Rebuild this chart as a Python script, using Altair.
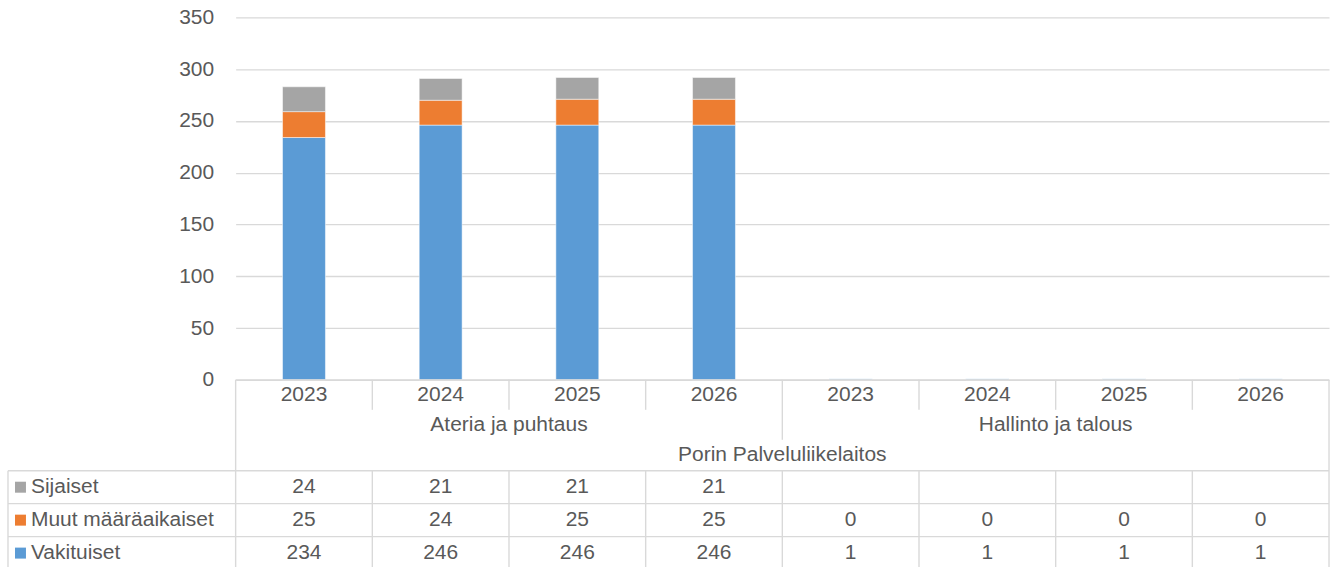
import altair as alt
import pandas as pd

# Categories: service unit and year, under one parent organisation
parent = "Porin Palveluliikelaitos"
units = ["Ateria ja puhtaus"] * 4 + ["Hallinto ja talous"] * 4
years = ["2023", "2024", "2025", "2026"] * 2

# Staff counts per category
sijaiset = [24, 21, 21, 21, None, None, None, None]
muut_maaraaikaiset = [25, 24, 25, 25, 0, 0, 0, 0]
vakituiset = [234, 246, 246, 246, 1, 1, 1, 1]

# Series in stacking order (bottom to top)
series_names = ["Vakituiset", "Muut määräaikaiset", "Sijaiset"]
series_values = [vakituiset, muut_maaraaikaiset, sijaiset]
series_colors = ["#5B9BD5", "#ED7D31", "#A5A5A5"]

y_ticks = [0, 50, 100, 150, 200, 250, 300, 350]

# ---- layout constants (pixels) ----
FONT = "Liberation Sans"
TEXT = "#595959"
LINE = "#D9D9D9"
FS = 21
PLOT_W = 1095
PLOT_H = 363
N_COLS = len(years)
COL_PX = PLOT_W / N_COLS
TABLE_LEFT = -228 / COL_PX          # left edge of the row-label column, in column units
ROW_EDGES = [0, 30, 60, 91, 124, 157, 190]
TABLE_H = ROW_EDGES[-1]


def row_mid(i):
    return (ROW_EDGES[i] + ROW_EDGES[i + 1]) / 2


# ---- stacked bars ----
bar_rows = []
for k, (name, vals) in enumerate(zip(series_names, series_values)):
    for i, v in enumerate(vals):
        if v is None:
            continue
        bar_rows.append({"col": i, "series": name, "order": k, "value": v})
bars_df = pd.DataFrame(bar_rows)

color_scale = alt.Scale(domain=series_names, range=series_colors)

bars = alt.Chart(bars_df).mark_bar(stroke="white", strokeWidth=0.5).encode(
    x=alt.X("col:O", axis=None,
            scale=alt.Scale(paddingInner=0.686, paddingOuter=0.343)),
    y=alt.Y("value:Q", stack="zero", title=None,
            scale=alt.Scale(domain=[0, 350], nice=False),
            axis=alt.Axis(values=y_ticks, grid=True, gridColor=LINE, gridWidth=1.3,
                          domain=False, ticks=False, labelFontSize=FS,
                          labelColor=TEXT, labelFont=FONT, labelPadding=22)),
    color=alt.Color("series:N", scale=color_scale, legend=None),
    order=alt.Order("order:Q"),
).properties(width=PLOT_W, height=PLOT_H)

# ---- category labels and data table below the plot ----
xs = alt.Scale(domain=[0, N_COLS], nice=False, zero=False)
ys = alt.Scale(domain=[0, TABLE_H], nice=False, zero=False, reverse=True)


def X(f):
    return alt.X(f, scale=xs, axis=None)


def Y(f):
    return alt.Y(f, scale=ys, axis=None)


year_df = pd.DataFrame({"x": [i + 0.5 for i in range(N_COLS)],
                        "y": row_mid(0), "label": years})

unit_names = list(dict.fromkeys(units))
unit_df = pd.DataFrame({
    "x": [sum(i + 0.5 for i, u in enumerate(units) if u == n) / units.count(n)
          for n in unit_names],
    "y": row_mid(1), "label": unit_names})

parent_df = pd.DataFrame({"x": [N_COLS / 2], "y": [row_mid(2)], "label": [parent]})

table_order = list(reversed(series_names))   # Sijaiset on top
cell_rows, label_rows = [], []
for r, name in enumerate(table_order):
    vals = series_values[series_names.index(name)]
    yc = row_mid(3 + r)
    label_rows.append({"y": yc, "series": name,
                       "xt": TABLE_LEFT + 23 / COL_PX,
                       "xs": TABLE_LEFT + 12.5 / COL_PX})
    for i, v in enumerate(vals):
        if v is None:
            continue
        cell_rows.append({"x": i + 0.5, "y": yc, "label": str(v)})
cells_df = pd.DataFrame(cell_rows)
labels_df = pd.DataFrame(label_rows)

# Table grid lines (x, x2 in column units; y, y2 in pixel rows)
rules = []
rules.append({"x": 0, "x2": N_COLS, "y": 0, "y2": 0})               # category axis line
for c in range(1, N_COLS):
    bottom = ROW_EDGES[2] if c == N_COLS // 2 else ROW_EDGES[1]
    rules.append({"x": c, "x2": c, "y": 0, "y2": bottom})
    rules.append({"x": c, "x2": c, "y": ROW_EDGES[3], "y2": TABLE_H})
for c in (0, N_COLS):
    rules.append({"x": c, "x2": c, "y": 0, "y2": TABLE_H})
rules.append({"x": TABLE_LEFT, "x2": TABLE_LEFT, "y": ROW_EDGES[3], "y2": TABLE_H})
for e in ROW_EDGES[3:]:
    rules.append({"x": TABLE_LEFT, "x2": N_COLS, "y": e, "y2": e})
rules_df = pd.DataFrame(rules)

grid = alt.Chart(rules_df).mark_rule(color=LINE, strokeWidth=1.4).encode(
    x=X("x:Q"), x2="x2:Q", y=Y("y:Q"), y2="y2:Q")


def text_layer(df, align="center"):
    return alt.Chart(df).mark_text(font=FONT, fontSize=FS, color=TEXT,
                                   align=align, baseline="middle").encode(
        x=X("x:Q"), y=Y("y:Q"), text="label:N")


row_text = alt.Chart(labels_df).mark_text(font=FONT, fontSize=FS, color=TEXT,
                                          align="left", baseline="middle").encode(
    x=X("xt:Q"), y=Y("y:Q"), text="series:N")

row_keys = alt.Chart(labels_df).mark_square(size=121, opacity=1).encode(
    x=X("xs:Q"), y=Y("y:Q"),
    color=alt.Color("series:N", scale=color_scale, legend=None))

table = alt.layer(
    grid,
    text_layer(year_df),
    text_layer(unit_df),
    text_layer(parent_df),
    text_layer(cells_df),
    row_text,
    row_keys,
).properties(width=PLOT_W, height=TABLE_H)

chart = alt.vconcat(bars, table, spacing=0, bounds="flush").configure_view(
    stroke=None
).properties(padding={"left": 7, "top": 6, "right": 6, "bottom": 0})

chart.save("out.html", embed_options={"renderer": "svg", "actions": False})
